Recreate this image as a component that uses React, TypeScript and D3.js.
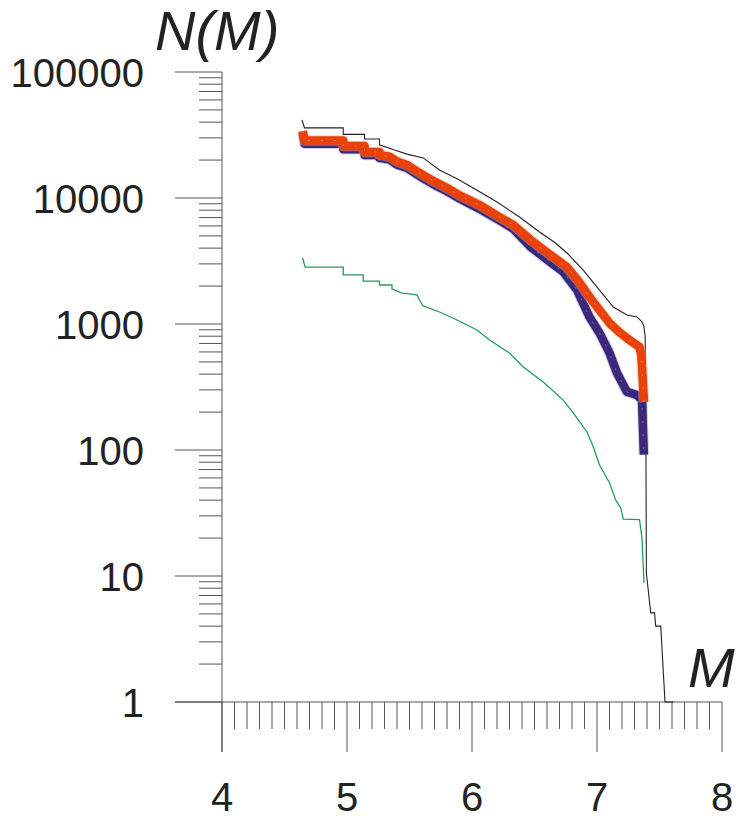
import React from "react";
import * as d3 from "d3";

// ---- data ----
const blackM = [4.64, 4.66, 4.97, 4.97, 5.14, 5.14, 5.26, 5.26, 5.38, 5.48, 5.61, 5.74, 5.88, 6.01, 6.2, 6.38, 6.54, 6.66, 6.76, 6.89, 7.02, 7.13, 7.24, 7.32, 7.36, 7.375, 7.385, 7.39, 7.395, 7.43, 7.46, 7.47, 7.51, 7.544, 7.61];
const blackN = [41600, 36000, 36000, 32000, 32000, 29400, 29400, 26400, 24000, 22300, 20800, 16700, 14200, 12000, 9300, 7070, 5370, 4450, 3660, 2680, 1860, 1365, 1178, 1137, 1040, 960, 800, 300, 10.5, 5.1, 5.1, 4.0, 4.0, 1, 1];

const orangeM = [4.645, 4.66, 4.97, 4.97, 5.14, 5.14, 5.26, 5.26, 5.34, 5.4, 5.48, 5.55, 5.61, 5.7, 5.8, 5.9, 6.06, 6.22, 6.33, 6.47, 6.6, 6.76, 6.85, 6.94, 7.02, 7.1, 7.18, 7.26, 7.34, 7.355, 7.376];
const orangeN = [34000, 28600, 28600, 25900, 25900, 23200, 23200, 22000, 21300, 19500, 18300, 16500, 15200, 13500, 12000, 10500, 8800, 7060, 6100, 4640, 3700, 2830, 2200, 1637, 1290, 1018, 860, 746, 657, 560, 240];

const purpleM = [4.645, 4.66, 4.97, 4.97, 5.14, 5.14, 5.26, 5.26, 5.34, 5.4, 5.48, 5.55, 5.61, 5.7, 5.8, 5.9, 6.06, 6.22, 6.33, 6.47, 6.6, 6.73, 6.84, 6.94, 7.02, 7.1, 7.16, 7.24, 7.32, 7.36, 7.375];
const purpleN = [33000, 27000, 27000, 24400, 24400, 21900, 21900, 20800, 20200, 18400, 17300, 15600, 14300, 12700, 11300, 9900, 8200, 6650, 5700, 4080, 3250, 2590, 1860, 1137, 849, 589, 408, 289, 273, 249, 92];

const greenM = [4.645, 4.665, 4.97, 4.97, 5.13, 5.13, 5.26, 5.26, 5.36, 5.36, 5.44, 5.56, 5.58, 5.61, 5.74, 5.88, 6.04, 6.14, 6.3, 6.41, 6.57, 6.73, 6.81, 6.92, 6.97, 7.02, 7.1, 7.15, 7.19, 7.21, 7.34, 7.36, 7.376];
const greenN = [3340, 2830, 2830, 2450, 2450, 2190, 2190, 2040, 2040, 1895, 1760, 1700, 1550, 1390, 1245, 1076, 896, 746, 589, 456, 346, 249, 197, 139, 106, 76, 55, 40, 34.7, 28.3, 28, 20, 8.8];

const xTicks = [4, 5, 6, 7, 8];
const yTicks = [1, 10, 100, 1000, 10000, 100000];
const yTickLabels = ["1", "10", "100", "1000", "10000", "100000"];

const FONT = "'Liberation Sans', Arial, Helvetica, sans-serif";
const AXIS = "#555";

export default function App() {
  const x = d3.scaleLinear().domain([4, 8]).range([222, 722]);
  const y = d3.scaleLog().domain([1, 100000]).range([702, 72]);

  const line = d3
    .line<[number, number]>()
    .x((d) => x(d[0]))
    .y((d) => y(d[1]));

  const zip = (a: number[], b: number[]) => a.map((m, i) => [m, b[i]] as [number, number]);
  const black = line(zip(blackM, blackN)) || "";
  const orange = line(zip(orangeM, orangeN)) || "";
  const purple = line(zip(purpleM, purpleN)) || "";
  const green = line(zip(greenM, greenN)) || "";

  // minor ticks
  const xMinor: number[] = [];
  for (let i = 0; i <= 40; i++) {
    const v = 4 + i / 10;
    if (i % 10 !== 0) xMinor.push(v);
  }
  const yMinor: number[] = [];
  for (let e = 0; e < 5; e++) {
    for (let k = 2; k <= 9; k++) yMinor.push(k * Math.pow(10, e));
  }

  return (
    <svg
      width={736}
      height={820}
      style={{ position: "absolute", left: 0, top: 0, background: "#fff" }}
    >
      <rect x={0} y={0} width={736} height={820} fill="#fff" />
      {/* axes */}
      <g stroke={AXIS} strokeWidth={1} fill="none">
        <line x1={x(4)} x2={x(4)} y1={y(100000)} y2={752} />
        <line x1={175} x2={x(8)} y1={y(1)} y2={y(1)} />
        {yTicks.map((t) => (
          <line key={"ym" + t} x1={175} x2={x(4)} y1={y(t)} y2={y(t)} />
        ))}
        {yMinor.map((t) => (
          <line key={"yn" + t} x1={199} x2={x(4)} y1={y(t)} y2={y(t)} />
        ))}
        {xTicks.map((t) => (
          <line key={"xm" + t} x1={x(t)} x2={x(t)} y1={y(1)} y2={752} />
        ))}
        {xMinor.map((t) => (
          <line key={"xn" + t} x1={x(t)} x2={x(t)} y1={y(1)} y2={729} />
        ))}
      </g>
      {/* labels */}
      <g fontFamily={FONT} fontSize={40} fill="#222">
        {yTicks.map((t, i) => (
          <text key={"yl" + t} x={144} y={y(t) + 14.5} textAnchor="end">
            {yTickLabels[i]}
          </text>
        ))}
        {xTicks.map((t) => (
          <text key={"xl" + t} x={x(t)} y={811} textAnchor="middle">
            {t}
          </text>
        ))}
      </g>
      <text x={155} y={50} fontFamily={FONT} fontSize={56} fontStyle="italic" fill="#222">
        N(M)
      </text>
      <text x={688} y={687} fontFamily={FONT} fontSize={56} fontStyle="italic" fill="#222">
        M
      </text>

      {/* series */}
      <path d={black} fill="none" stroke="#222" strokeWidth={1.1} />
      <path d={green} fill="none" stroke="#1E9E5A" strokeWidth={1.3} />
      <path d={purple} fill="none" stroke="#A89CD0" strokeOpacity={0.5} strokeWidth={10.5} strokeLinejoin="round" />
      <path d={purple} fill="none" stroke="#3A287A" strokeWidth={8.5} strokeLinejoin="round" />
      <path d={purple} fill="none" stroke="#fff" strokeOpacity={0.35} strokeWidth={1} strokeDasharray="2 11" />
      <path d={orange} fill="none" stroke="#F5A888" strokeOpacity={0.5} strokeWidth={10.5} strokeLinejoin="round" />
      <path d={orange} fill="none" stroke="#E8420A" strokeWidth={8.5} strokeLinejoin="round" />
      <path d={orange} fill="none" stroke="#fff" strokeOpacity={0.35} strokeWidth={1} strokeDasharray="2 11" />
    </svg>
  );
}
